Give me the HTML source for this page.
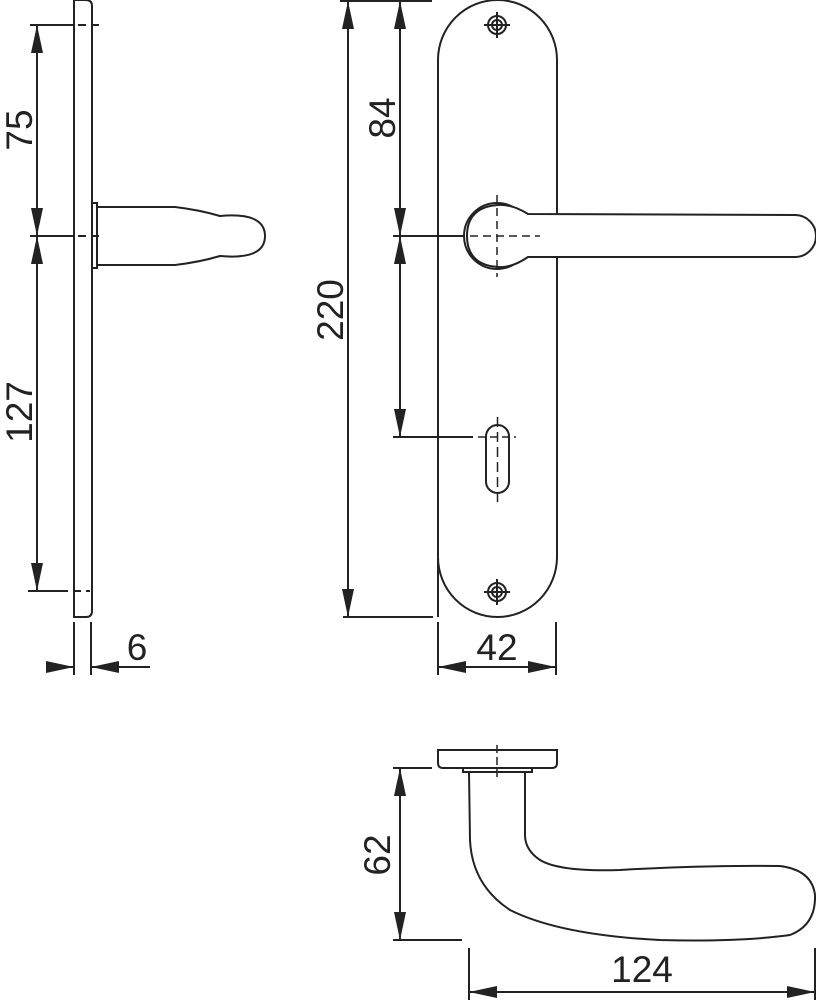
<!DOCTYPE html>
<html><head><meta charset="utf-8"><style>
html,body{margin:0;padding:0;background:#fff;width:816px;height:1000px;overflow:hidden}
svg text{font-family:"Liberation Sans",sans-serif;font-size:37px;fill:#222}
</style></head><body>
<svg width="816" height="1000" viewBox="0 0 816 1000" xmlns="http://www.w3.org/2000/svg">
<defs>
<marker id="a" viewBox="0 0 28 12" refX="28" refY="6" markerWidth="28" markerHeight="12" markerUnits="userSpaceOnUse" orient="auto-start-reverse"><path d="M0,0 L28,6 L0,12 z" fill="#222"/></marker>
</defs>
<g stroke="#222" stroke-width="2" fill="none">
<path d="M74,617 L74,0 L86,0 Q92,0 92,6 L92,611 Q92,617 86,617 Z"/>
<rect x="92" y="203" width="5" height="65"/>
<path d="M97,207 L175,207 Q200,210 220,216 Q265,212 265,236 Q265,260 220,256 Q200,262 175,265 L97,265"/>
<line x1="30" y1="25" x2="65" y2="25"/><line x1="65" y1="25" x2="100" y2="25" stroke-dasharray="8,5"/>
<line x1="30" y1="236" x2="65" y2="236"/><line x1="65" y1="236" x2="100" y2="236" stroke-dasharray="8,5"/>
<line x1="28" y1="591" x2="60" y2="591"/><line x1="60" y1="591" x2="90" y2="591" stroke-dasharray="8,5"/>
<line x1="37" y1="25" x2="37" y2="236" marker-start="url(#a)" marker-end="url(#a)"/>
<line x1="37" y1="236" x2="37" y2="591" marker-start="url(#a)" marker-end="url(#a)"/>
<line x1="74" y1="622" x2="74" y2="675"/><line x1="91" y1="622" x2="91" y2="675"/>
<line x1="46" y1="667" x2="74" y2="667" marker-end="url(#a)"/>
<line x1="150" y1="667" x2="91" y2="667" marker-end="url(#a)"/>
<path d="M438,617 L438,60 A59.5,60 0 0 1 557,60 L557,557 A59.5,60 0 0 1 438,557 Z" fill="#fff"/>
<circle cx="497" cy="25" r="9"/><circle cx="497" cy="25" r="5"/>
<line x1="484" y1="25" x2="510" y2="25"/><line x1="497" y1="12" x2="497" y2="38"/>
<circle cx="497" cy="592" r="9"/><circle cx="497" cy="592" r="5"/>
<line x1="484" y1="592" x2="510" y2="592"/><line x1="497" y1="579" x2="497" y2="605"/>
<circle cx="497" cy="236" r="33" fill="#fff"/>
<path d="M528,214 Q512,204 498,205 Q467,207 467,236 Q467,265 498,267 Q512,268 528,257 L795,257 A21,21 0 0 0 795,215 Z" fill="#fff"/>
<line x1="497" y1="195" x2="497" y2="277" stroke-dasharray="8,5" stroke-width="1.5"/>
<line x1="470" y1="236" x2="540" y2="236" stroke-dasharray="8,5" stroke-width="1.5"/>
<rect x="486" y="425" width="23" height="68" rx="11.5"/>
<line x1="497.5" y1="417" x2="497.5" y2="502" stroke-dasharray="10,5" stroke-width="1.5"/>
<line x1="478" y1="437" x2="516" y2="437" stroke-dasharray="8,4" stroke-width="1.5"/>
<line x1="340" y1="1" x2="432" y2="1"/>
<line x1="343" y1="617" x2="433" y2="617"/>
<line x1="348" y1="1" x2="348" y2="617" marker-start="url(#a)" marker-end="url(#a)"/>
<line x1="393" y1="236" x2="465" y2="236"/>
<line x1="393" y1="437" x2="473" y2="437"/>
<line x1="400" y1="1" x2="400" y2="236" marker-start="url(#a)" marker-end="url(#a)"/>
<line x1="400" y1="236" x2="400" y2="437" marker-start="url(#a)" marker-end="url(#a)"/>
<line x1="438" y1="622" x2="438" y2="675"/><line x1="556" y1="622" x2="556" y2="675"/>
<line x1="438" y1="667" x2="556" y2="667" marker-start="url(#a)" marker-end="url(#a)"/>
<path d="M438,750 L557,750 L557,763 Q557,768 552,768 L443,768 Q438,768 438,763 Z"/>
<rect x="463" y="768" width="69" height="4"/>
<line x1="497" y1="745" x2="497" y2="780" stroke-dasharray="8,4" stroke-width="1.5"/>
<path d="M469,772 L470,840 Q472,885 510,910 Q560,935 660,940 Q740,942 790,935 Q816,925 815,895 Q812,870 780,866 Q700,865 620,870 Q560,872 540,860 Q525,850 525,835 L525,772"/>
<line x1="393" y1="768" x2="432" y2="768"/>
<line x1="393" y1="940" x2="462" y2="940"/>
<line x1="400" y1="768" x2="400" y2="940" marker-start="url(#a)" marker-end="url(#a)"/>
<line x1="469" y1="948" x2="469" y2="1000"/><line x1="815" y1="948" x2="815" y2="1000"/>
<line x1="469" y1="992" x2="815" y2="992" marker-start="url(#a)" marker-end="url(#a)"/>
</g>
<text transform="translate(32,130) rotate(-90)" text-anchor="middle">75</text>
<text transform="translate(32,412) rotate(-90)" text-anchor="middle">127</text>
<text x="137" y="660" text-anchor="middle">6</text>
<text transform="translate(343,310) rotate(-90)" text-anchor="middle">220</text>
<text transform="translate(395,118) rotate(-90)" text-anchor="middle">84</text>
<text x="497" y="660" text-anchor="middle">42</text>
<text transform="translate(390,855) rotate(-90)" text-anchor="middle">62</text>
<text x="642" y="982" text-anchor="middle">124</text>
</svg>
</body></html>
